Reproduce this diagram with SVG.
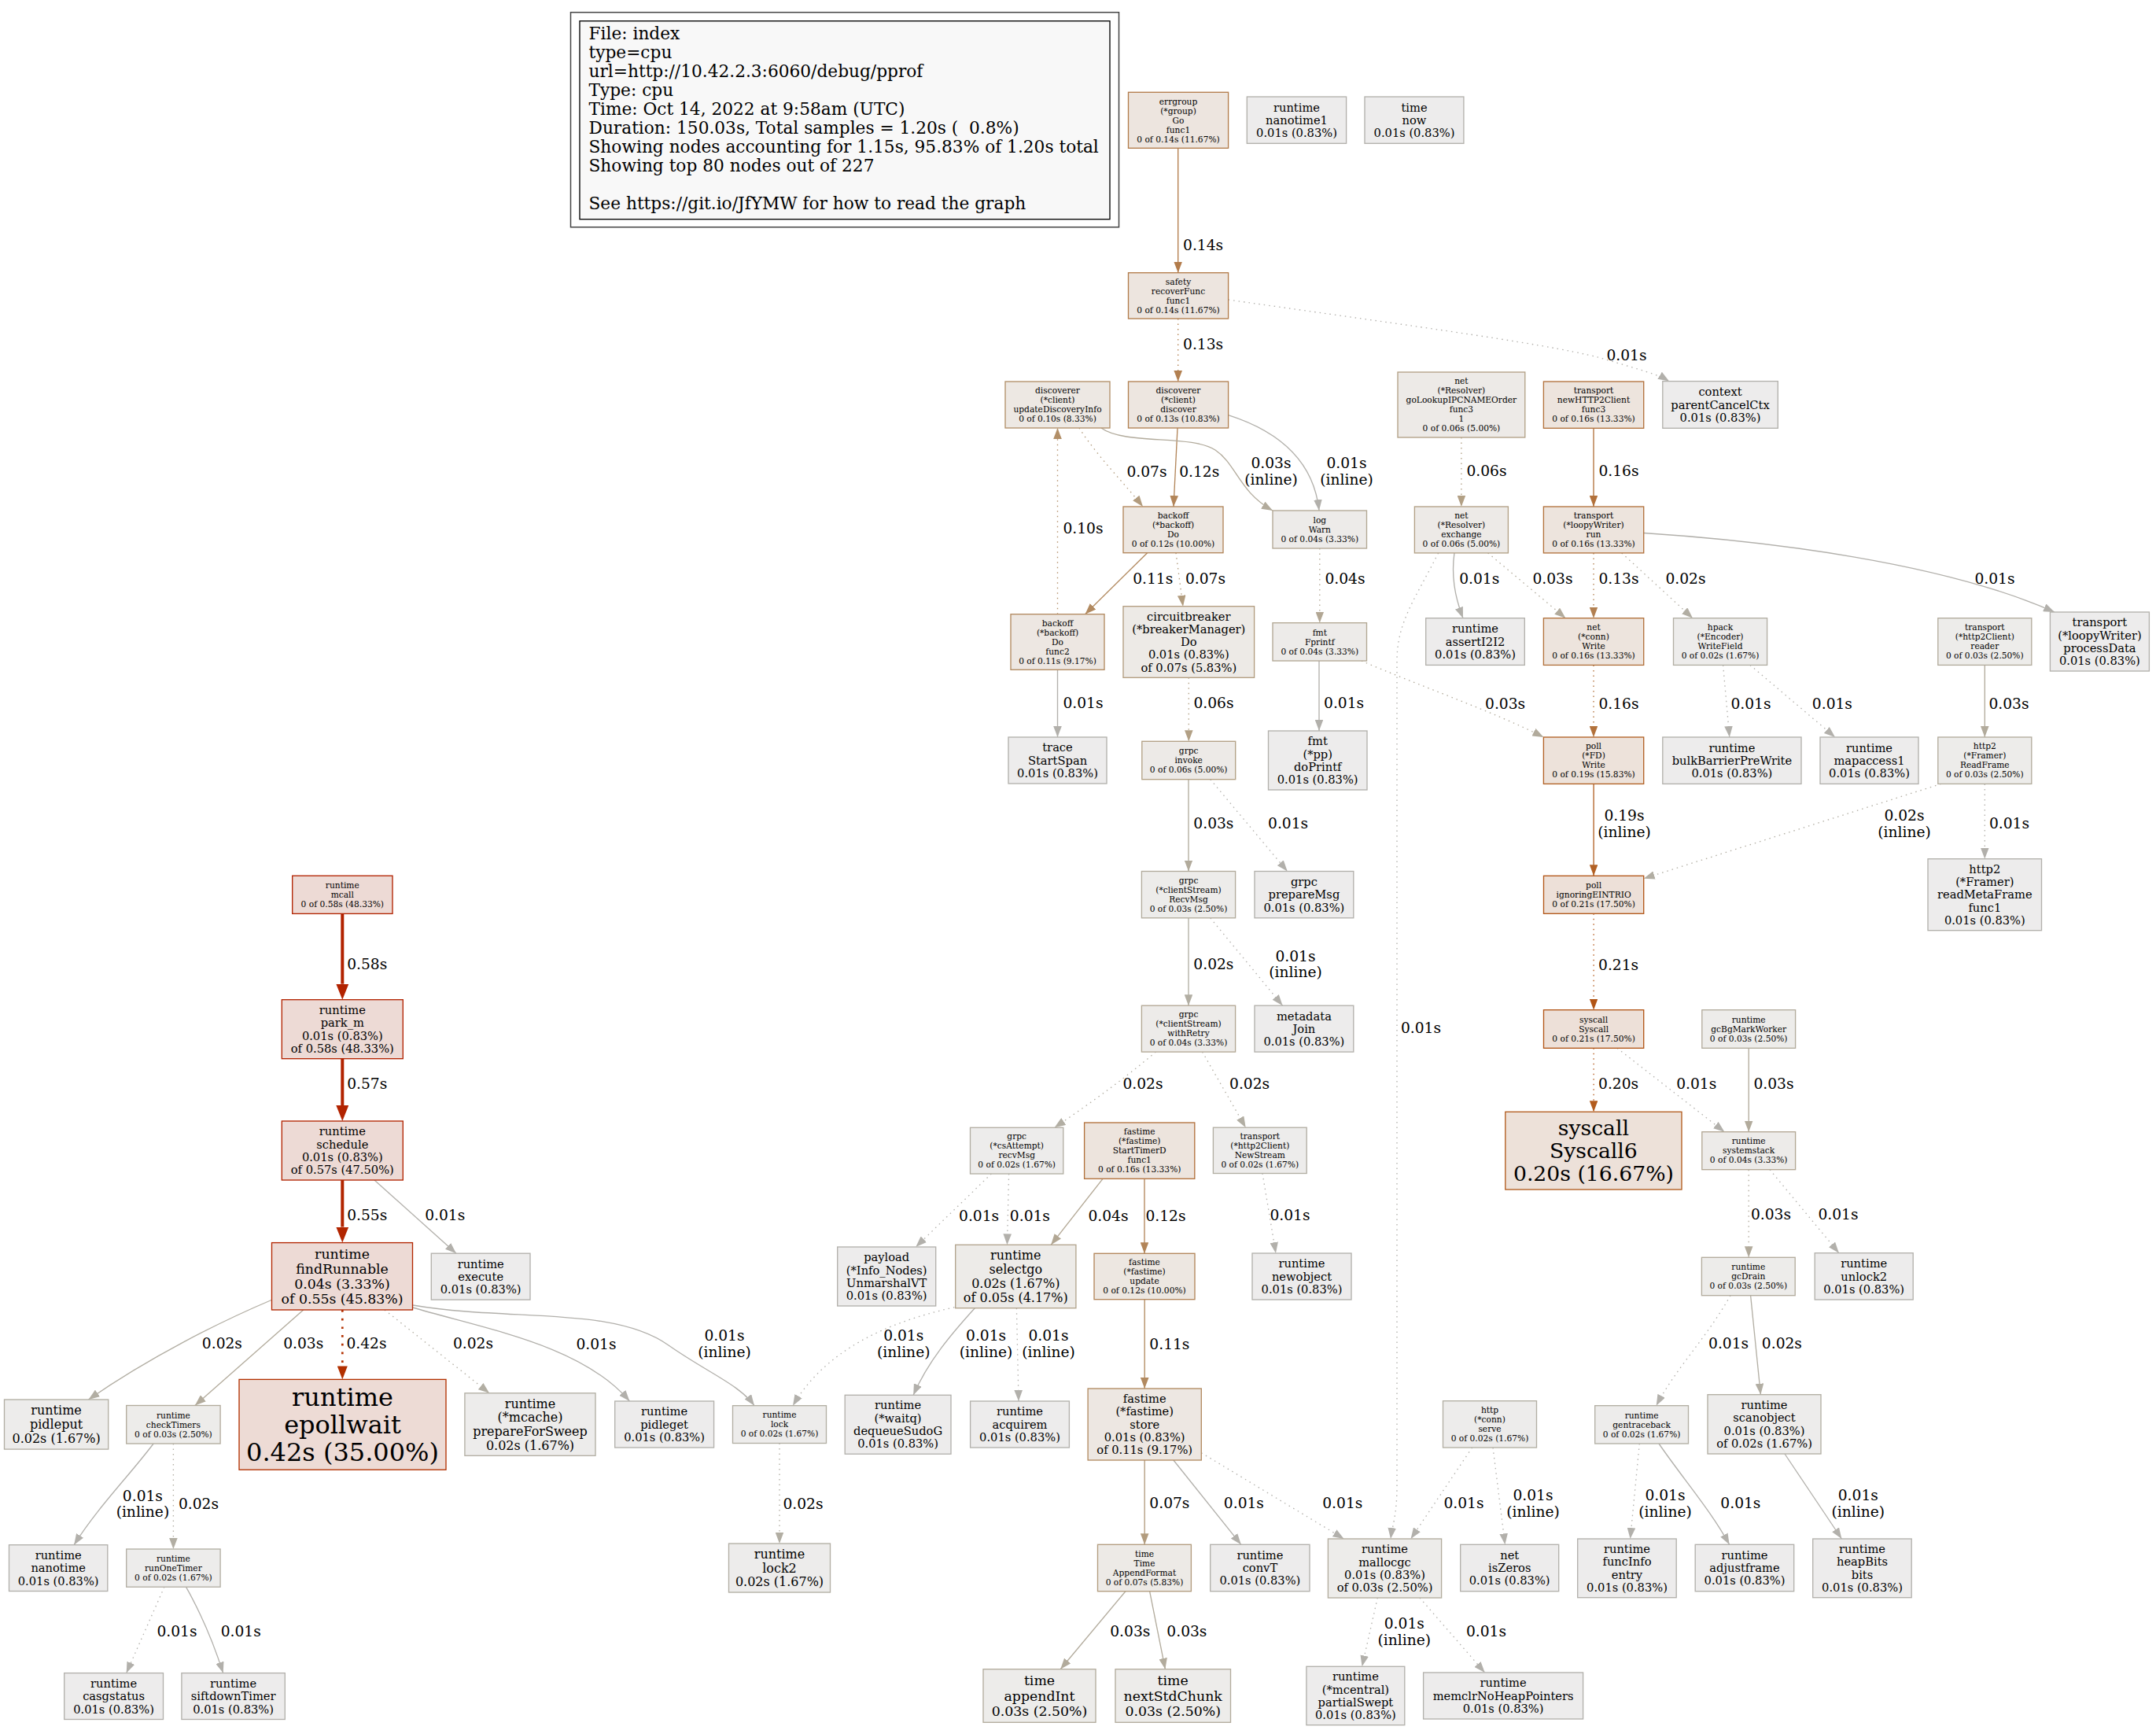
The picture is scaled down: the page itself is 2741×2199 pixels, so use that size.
<svg xmlns="http://www.w3.org/2000/svg" width="2741" height="2199" viewBox="0 0 2741 2199">
<style>
text{font-family:"DejaVu Serif","Liberation Serif",serif;fill:#000}
.n text{text-anchor:middle}
.n rect{stroke-width:1.33}
.f8{font-size:10.67px}.f11{font-size:14.67px}.f12{font-size:16px}.f13{font-size:17.33px}.f20{font-size:26.67px}.f24{font-size:32px}
.e{fill:none;stroke-width:1.33}
.dt{stroke-dasharray:1.5 5}
.el{font-size:18.67px;text-anchor:middle}
.lg{font-size:21.7px}
.k58 rect{fill:#eddad5;stroke:#b22200}.k57 rect{fill:#eddad5;stroke:#b22300}.k55 rect{fill:#eddad5;stroke:#b22500}.k42 rect{fill:#eddbd5;stroke:#b23000}
.k21 rect{fill:#ede0d8;stroke:#b25516}.k20 rect{fill:#ede1d9;stroke:#b25b1d}.k19 rect{fill:#ede2da;stroke:#b26125}.k16 rect{fill:#ede4dd;stroke:#b2713b}
.k14 rect{fill:#ede5df;stroke:#b27b4a}.k13 rect{fill:#ede6e0;stroke:#b28051}.k12 rect{fill:#ede7e1;stroke:#b28559}.k11 rect{fill:#ede7e2;stroke:#b28a60}
.k10 rect{fill:#ede8e3;stroke:#b28f68}.k07 rect{fill:#edeae6;stroke:#b29c7e}.k06 rect{fill:#edeae7;stroke:#b2a085}.k05 rect{fill:#edebe8;stroke:#b2a48d}
.k04 rect{fill:#edebe9;stroke:#b2a794}.k03 rect{fill:#edecea;stroke:#b2ab9c}.k02 rect{fill:#edeceb;stroke:#b2aea3}.k01 rect{fill:#edecec;stroke:#b2b0ab}
.c58{stroke:#b22200;stroke-width:4}.c57{stroke:#b22300;stroke-width:4}.c55{stroke:#b22500;stroke-width:4}.c42{stroke:#b23000;stroke-width:2.67;stroke-dasharray:2.7 8}
.c21{stroke:#b25516}.c20{stroke:#b25b1d}.c19{stroke:#b26125}.c16{stroke:#b2713b}.c14{stroke:#b27b4a}.c13{stroke:#b28051}.c12{stroke:#b28559}
.c11{stroke:#b28a60}.c10{stroke:#b28f68}.c07{stroke:#b29c7e}.c06{stroke:#b2a085}.c04{stroke:#b2a794}.c03{stroke:#b2ab9c}.c02{stroke:#b2aea3}.c01{stroke:#b2b0ab}
</style>
<defs>
<marker id="a01" viewBox="0 0 14 10.6" markerUnits="userSpaceOnUse" markerWidth="14" markerHeight="10.6" refX="14" refY="5.3" orient="auto"><path d="M0,0L14,5.3L0,10.6z" fill="#b2b0ab"/></marker>
<marker id="a02" viewBox="0 0 14 10.6" markerUnits="userSpaceOnUse" markerWidth="14" markerHeight="10.6" refX="14" refY="5.3" orient="auto"><path d="M0,0L14,5.3L0,10.6z" fill="#b2aea3"/></marker>
<marker id="a03" viewBox="0 0 14 10.6" markerUnits="userSpaceOnUse" markerWidth="14" markerHeight="10.6" refX="14" refY="5.3" orient="auto"><path d="M0,0L14,5.3L0,10.6z" fill="#b2ab9c"/></marker>
<marker id="a04" viewBox="0 0 14 10.6" markerUnits="userSpaceOnUse" markerWidth="14" markerHeight="10.6" refX="14" refY="5.3" orient="auto"><path d="M0,0L14,5.3L0,10.6z" fill="#b2a794"/></marker>
<marker id="a06" viewBox="0 0 14 10.6" markerUnits="userSpaceOnUse" markerWidth="14" markerHeight="10.6" refX="14" refY="5.3" orient="auto"><path d="M0,0L14,5.3L0,10.6z" fill="#b2a085"/></marker>
<marker id="a07" viewBox="0 0 14 10.6" markerUnits="userSpaceOnUse" markerWidth="14" markerHeight="10.6" refX="14" refY="5.3" orient="auto"><path d="M0,0L14,5.3L0,10.6z" fill="#b29c7e"/></marker>
<marker id="a10" viewBox="0 0 14 10.6" markerUnits="userSpaceOnUse" markerWidth="14" markerHeight="10.6" refX="14" refY="5.3" orient="auto"><path d="M0,0L14,5.3L0,10.6z" fill="#b28f68"/></marker>
<marker id="a11" viewBox="0 0 14 10.6" markerUnits="userSpaceOnUse" markerWidth="14" markerHeight="10.6" refX="14" refY="5.3" orient="auto"><path d="M0,0L14,5.3L0,10.6z" fill="#b28a60"/></marker>
<marker id="a12" viewBox="0 0 14 10.6" markerUnits="userSpaceOnUse" markerWidth="14" markerHeight="10.6" refX="14" refY="5.3" orient="auto"><path d="M0,0L14,5.3L0,10.6z" fill="#b28559"/></marker>
<marker id="a13" viewBox="0 0 14 10.6" markerUnits="userSpaceOnUse" markerWidth="14" markerHeight="10.6" refX="14" refY="5.3" orient="auto"><path d="M0,0L14,5.3L0,10.6z" fill="#b28051"/></marker>
<marker id="a14" viewBox="0 0 14 10.6" markerUnits="userSpaceOnUse" markerWidth="14" markerHeight="10.6" refX="14" refY="5.3" orient="auto"><path d="M0,0L14,5.3L0,10.6z" fill="#b27b4a"/></marker>
<marker id="a16" viewBox="0 0 14 10.6" markerUnits="userSpaceOnUse" markerWidth="14" markerHeight="10.6" refX="14" refY="5.3" orient="auto"><path d="M0,0L14,5.3L0,10.6z" fill="#b2713b"/></marker>
<marker id="a19" viewBox="0 0 14 10.6" markerUnits="userSpaceOnUse" markerWidth="14" markerHeight="10.6" refX="14" refY="5.3" orient="auto"><path d="M0,0L14,5.3L0,10.6z" fill="#b26125"/></marker>
<marker id="a20" viewBox="0 0 14 10.6" markerUnits="userSpaceOnUse" markerWidth="14" markerHeight="10.6" refX="14" refY="5.3" orient="auto"><path d="M0,0L14,5.3L0,10.6z" fill="#b25b1d"/></marker>
<marker id="a21" viewBox="0 0 14 10.6" markerUnits="userSpaceOnUse" markerWidth="14" markerHeight="10.6" refX="14" refY="5.3" orient="auto"><path d="M0,0L14,5.3L0,10.6z" fill="#b25516"/></marker>
<marker id="a58" viewBox="0 0 20 16" markerUnits="userSpaceOnUse" markerWidth="20" markerHeight="16" refX="0" refY="8" orient="auto"><path d="M0,0L20,8L0,16z" fill="#b22200"/></marker>
<marker id="a57" viewBox="0 0 20 16" markerUnits="userSpaceOnUse" markerWidth="20" markerHeight="16" refX="0" refY="8" orient="auto"><path d="M0,0L20,8L0,16z" fill="#b22300"/></marker>
<marker id="a55" viewBox="0 0 20 16" markerUnits="userSpaceOnUse" markerWidth="20" markerHeight="16" refX="0" refY="8" orient="auto"><path d="M0,0L20,8L0,16z" fill="#b22500"/></marker>
<marker id="a42" viewBox="0 0 17 13" markerUnits="userSpaceOnUse" markerWidth="17" markerHeight="13" refX="0" refY="6.5" orient="auto"><path d="M0,0L17,6.5L0,13z" fill="#b23000"/></marker>
</defs>
<rect x="0" y="0" width="2741" height="2199" fill="#fff"/>
<g id="legend">
<rect x="725.5" y="15.7" width="697" height="273" fill="#fff" stroke="#444" stroke-width="1.5"/>
<rect x="737" y="26.7" width="674" height="252" fill="#f8f8f8" stroke="#000" stroke-width="1.33"/>
<text class="lg" x="748.5" xml:space="preserve"><tspan x="748.5" y="50">File: index</tspan><tspan x="748.5" y="74">type=cpu</tspan><tspan x="748.5" y="98">url=http://10.42.2.3:6060/debug/pprof</tspan><tspan x="748.5" y="122">Type: cpu</tspan><tspan x="748.5" y="146">Time: Oct 14, 2022 at 9:58am (UTC)</tspan><tspan x="748.5" y="170">Duration: 150.03s, Total samples = 1.20s (  0.8%)</tspan><tspan x="748.5" y="194">Showing nodes accounting for 1.15s, 95.83% of 1.20s total</tspan><tspan x="748.5" y="218">Showing top 80 nodes out of 227</tspan><tspan x="748.5" y="266">See https://git.io/JfYMW for how to read the graph</tspan></text>
</g>
<g id="connectors">
<path class="e c14" d="M1497.7,188.3V346.7" marker-end="url(#a14)"/>
<path class="e c13 dt" d="M1497.7,405V485" marker-end="url(#a13)"/>
<path class="e c01 dt" d="M1561.6,381C1800,415 1990,440 2045,458C2085,470 2108,476 2122,484.6" marker-end="url(#a01)"/>
<path class="e c12" d="M1497,544L1492,644" marker-end="url(#a12)"/>
<path class="e c01" d="M1561.6,527.7C1625,548 1670,585 1677,649" marker-end="url(#a01)"/>
<path class="e c07 dt" d="M1372,544C1395,580 1430,615 1453,644" marker-end="url(#a07)"/>
<path class="e c03" d="M1400,544C1430,566 1515,552 1545,572C1572,590 1575,625 1618,649" marker-end="url(#a03)"/>
<path class="e c11" d="M1458.6,702.7L1379.6,780.7" marker-end="url(#a11)"/>
<path class="e c07 dt" d="M1495,702.7L1504,770.7" marker-end="url(#a07)"/>
<path class="e c10 dt" d="M1344.5,780.7V544" marker-end="url(#a10)"/>
<path class="e c01" d="M1344.5,851.3V937" marker-end="url(#a01)"/>
<path class="e c06 dt" d="M1511.3,861.3V942.3" marker-end="url(#a06)"/>
<path class="e c04 dt" d="M1677.8,697V791.7" marker-end="url(#a04)"/>
<path class="e c01" d="M1677,840V929" marker-end="url(#a01)"/>
<path class="e c03 dt" d="M1731,840C1800,870 1900,905 1962.4,937" marker-end="url(#a03)"/>
<path class="e c06 dt" d="M1857.9,556V644" marker-end="url(#a06)"/>
<path class="e c16" d="M2026,544.3V644" marker-end="url(#a16)"/>
<path class="e c01" d="M1849,702.9C1845,730 1850,760 1860,785.7" marker-end="url(#a01)"/>
<path class="e c03 dt" d="M1891.6,702.9L1990.4,785.7" marker-end="url(#a03)"/>
<path class="e c01 dt" d="M1828.6,702.9C1800,760 1776,790 1776,840V1890C1776,1925 1770,1940 1768,1956" marker-end="url(#a01)"/>
<path class="e c13 dt" d="M2026,702.9V785.7" marker-end="url(#a13)"/>
<path class="e c02 dt" d="M2061.7,702.9L2152,785.7" marker-end="url(#a02)"/>
<path class="e c01" d="M2089.7,677.5C2250,688 2470,715 2612,778" marker-end="url(#a01)"/>
<path class="e c16 dt" d="M2026,845.4V937" marker-end="url(#a16)"/>
<path class="e c01 dt" d="M2190.6,845.4L2198.8,937" marker-end="url(#a01)"/>
<path class="e c01 dt" d="M2225,845.4L2333,937" marker-end="url(#a01)"/>
<path class="e c03" d="M2523.3,845.4V937" marker-end="url(#a03)"/>
<path class="e c02 dt" d="M2467.6,996.4L2089.7,1116.7" marker-end="url(#a02)"/>
<path class="e c01 dt" d="M2523.3,996.4V1091.7" marker-end="url(#a01)"/>
<path class="e c19" d="M2026.1,996.4V1113.3" marker-end="url(#a19)"/>
<path class="e c21 dt" d="M2026.1,1161.3V1283.7" marker-end="url(#a21)"/>
<path class="e c20 dt" d="M2026.1,1332.3V1413.3" marker-end="url(#a20)"/>
<path class="e c01 dt" d="M2056,1332.3L2192.4,1438.7" marker-end="url(#a01)"/>
<path class="e c03" d="M2223.2,1332.3V1438.7" marker-end="url(#a03)"/>
<path class="e c03 dt" d="M2223.2,1486.7V1598.3" marker-end="url(#a03)"/>
<path class="e c01 dt" d="M2250,1486.7L2337.9,1592.7" marker-end="url(#a01)"/>
<path class="e c01 dt" d="M2200,1646.7C2170,1700 2130,1740 2105.7,1786.7" marker-end="url(#a01)"/>
<path class="e c02" d="M2225.6,1646.7L2238.4,1772.7" marker-end="url(#a02)"/>
<path class="e c01 dt" d="M2084.3,1835L2072.6,1956" marker-end="url(#a01)"/>
<path class="e c01" d="M2109,1835C2140,1880 2175,1920 2198.6,1963.3" marker-end="url(#a01)"/>
<path class="e c01" d="M2269,1848L2341.4,1956" marker-end="url(#a01)"/>
<path class="e c01 dt" d="M1871.6,1840L1793.6,1956" marker-end="url(#a01)"/>
<path class="e c01 dt" d="M1898,1840L1913.4,1963.3" marker-end="url(#a01)"/>
<path class="e c03" d="M1511,990.7V1107.5" marker-end="url(#a03)"/>
<path class="e c01 dt" d="M1538.8,990.7L1636.7,1107.5" marker-end="url(#a01)"/>
<path class="e c02" d="M1511,1166.8V1278.2" marker-end="url(#a02)"/>
<path class="e c01 dt" d="M1538.8,1166.8L1630.6,1278.2" marker-end="url(#a01)"/>
<path class="e c02 dt" d="M1469.4,1337.1C1425,1375 1375,1410 1340.6,1433.3" marker-end="url(#a02)"/>
<path class="e c02 dt" d="M1528.6,1337.1L1583.7,1433.2" marker-end="url(#a02)"/>
<path class="e c01 dt" d="M1605,1491.5L1622,1593" marker-end="url(#a01)"/>
<path class="e c01 dt" d="M1260.3,1492L1164.3,1585" marker-end="url(#a01)"/>
<path class="e c01 dt" d="M1282.6,1492L1280.4,1582.3" marker-end="url(#a01)"/>
<path class="e c04" d="M1402,1498.3L1336.2,1582.3" marker-end="url(#a04)"/>
<path class="e c12" d="M1455,1498.3V1593.3" marker-end="url(#a12)"/>
<path class="e c11" d="M1455.2,1651.7V1765" marker-end="url(#a11)"/>
<path class="e c07" d="M1455.2,1856V1963.3" marker-end="url(#a07)"/>
<path class="e c01" d="M1491.9,1856L1577.8,1963.3" marker-end="url(#a01)"/>
<path class="e c01 dt" d="M1527.3,1846.7L1708.6,1956" marker-end="url(#a01)"/>
<path class="e c03" d="M1430.9,2022.7L1348.2,2121.7" marker-end="url(#a03)"/>
<path class="e c03" d="M1461.6,2022.7L1481.4,2121.7" marker-end="url(#a03)"/>
<path class="e c01 dt" d="M1751.3,2031L1731.6,2118.3" marker-end="url(#a01)"/>
<path class="e c01 dt" d="M1805,2031L1887.7,2126" marker-end="url(#a01)"/>
<path class="e c01 dt" d="M1213.4,1661.7C1130,1680 1050,1715 1008,1786.7" marker-end="url(#a01)"/>
<path class="e c01" d="M1239.3,1662.7C1210,1695 1180,1730 1161.2,1773.3" marker-end="url(#a01)"/>
<path class="e c01 dt" d="M1292.4,1662.7L1295,1781" marker-end="url(#a01)"/>
<path class="e c02 dt" d="M991,1834.5V1962" marker-end="url(#a02)"/>
<path class="e c58" d="M435.3,1161.4V1250.7" marker-end="url(#a58)"/>
<path class="e c57" d="M435.3,1345.7V1405" marker-end="url(#a57)"/>
<path class="e c55" d="M435.3,1500V1559.6" marker-end="url(#a55)"/>
<path class="e c01" d="M476,1500L580,1593.2" marker-end="url(#a01)"/>
<path class="e c02" d="M345,1652.5C280,1680 190,1725 112.5,1779" marker-end="url(#a02)"/>
<path class="e c03" d="M385.7,1665L247.9,1786.5" marker-end="url(#a03)"/>
<path class="e c42" d="M435.3,1665V1736.4" marker-end="url(#a42)"/>
<path class="e c02 dt" d="M489,1665L622.1,1770.8" marker-end="url(#a02)"/>
<path class="e c01" d="M524.8,1662C620,1690 740,1710 800.4,1781" marker-end="url(#a01)"/>
<path class="e c01" d="M524.8,1659C650,1680 780,1660 850,1710C900,1745 940,1760 959,1786.7" marker-end="url(#a01)"/>
<path class="e c01" d="M195.1,1835C165,1875 125,1915 94.1,1963.7" marker-end="url(#a01)"/>
<path class="e c02 dt" d="M220.4,1835V1969" marker-end="url(#a02)"/>
<path class="e c01 dt" d="M208.9,2017.2L160.7,2126.6" marker-end="url(#a01)"/>
<path class="e c01" d="M236.5,2017.2C255,2050 272,2090 283.7,2126.6" marker-end="url(#a01)"/>
<g id="edge-labels">
<text class="el" x="1529.6" y="318.2">0.14s</text>
<text class="el" x="1529.6" y="443.8">0.13s</text>
<text class="el" x="2068" y="458">0.01s</text>
<text class="el" x="1524.7" y="605.5">0.12s</text>
<text class="el"><tspan x="1712" y="594.5">0.01s</tspan><tspan x="1712" y="615.5">(inline)</tspan></text>
<text class="el" x="1458" y="605.5">0.07s</text>
<text class="el"><tspan x="1616" y="594.5">0.03s</tspan><tspan x="1616" y="615.5">(inline)</tspan></text>
<text class="el" x="1465.7" y="742.2">0.11s</text>
<text class="el" x="1532.5" y="742.2">0.07s</text>
<text class="el" x="1377" y="678.2">0.10s</text>
<text class="el" x="1377" y="899.5">0.01s</text>
<text class="el" x="1543" y="899.5">0.06s</text>
<text class="el" x="1710" y="742.2">0.04s</text>
<text class="el" x="1708.6" y="899.5">0.01s</text>
<text class="el" x="1913.6" y="900.5">0.03s</text>
<text class="el" x="1890" y="605.1">0.06s</text>
<text class="el" x="2058" y="605.1">0.16s</text>
<text class="el" x="1880.7" y="742.2">0.01s</text>
<text class="el" x="1974" y="742.2">0.03s</text>
<text class="el" x="1806.5" y="1312.5">0.01s</text>
<text class="el" x="2058" y="742.2">0.13s</text>
<text class="el" x="2143" y="742.2">0.02s</text>
<text class="el" x="2536" y="742.2">0.01s</text>
<text class="el" x="2058" y="900.5">0.16s</text>
<text class="el" x="2226" y="900.5">0.01s</text>
<text class="el" x="2329.4" y="900.5">0.01s</text>
<text class="el" x="2554" y="900.5">0.03s</text>
<text class="el"><tspan x="2421" y="1043.2">0.02s</tspan><tspan x="2421" y="1063.8">(inline)</tspan></text>
<text class="el" x="2554.5" y="1053.2">0.01s</text>
<text class="el"><tspan x="2065" y="1043.2">0.19s</tspan><tspan x="2065" y="1063.8">(inline)</tspan></text>
<text class="el" x="2057.6" y="1232.5">0.21s</text>
<text class="el" x="2057.6" y="1384.2">0.20s</text>
<text class="el" x="2156.7" y="1384.2">0.01s</text>
<text class="el" x="2255" y="1384.2">0.03s</text>
<text class="el" x="2251.5" y="1550">0.03s</text>
<text class="el" x="2337" y="1550">0.01s</text>
<text class="el" x="2197.6" y="1714.2">0.01s</text>
<text class="el" x="2265.4" y="1714.2">0.02s</text>
<text class="el"><tspan x="2117" y="1907.2">0.01s</tspan><tspan x="2117" y="1927.5">(inline)</tspan></text>
<text class="el" x="2212.9" y="1917.2">0.01s</text>
<text class="el"><tspan x="2362.3" y="1907.2">0.01s</tspan><tspan x="2362.3" y="1927.5">(inline)</tspan></text>
<text class="el" x="1861" y="1917.2">0.01s</text>
<text class="el"><tspan x="1949" y="1907.2">0.01s</tspan><tspan x="1949" y="1927.5">(inline)</tspan></text>
<text class="el" x="1542.9" y="1053.3">0.03s</text>
<text class="el" x="1637.6" y="1053.3">0.01s</text>
<text class="el" x="1542.9" y="1231.9">0.02s</text>
<text class="el"><tspan x="1647" y="1222.2">0.01s</tspan><tspan x="1647" y="1241.9">(inline)</tspan></text>
<text class="el" x="1453" y="1384">0.02s</text>
<text class="el" x="1588.6" y="1384">0.02s</text>
<text class="el" x="1640" y="1550.5">0.01s</text>
<text class="el" x="1244.6" y="1551.5">0.01s</text>
<text class="el" x="1309.4" y="1551.5">0.01s</text>
<text class="el" x="1409" y="1551.5">0.04s</text>
<text class="el" x="1482" y="1551.5">0.12s</text>
<text class="el" x="1486.9" y="1714.8">0.11s</text>
<text class="el" x="1486.9" y="1917.2">0.07s</text>
<text class="el" x="1581.4" y="1917.2">0.01s</text>
<text class="el" x="1706.8" y="1917.2">0.01s</text>
<text class="el" x="1436.8" y="2079.8">0.03s</text>
<text class="el" x="1508.9" y="2079.8">0.03s</text>
<text class="el"><tspan x="1785.3" y="2069.8">0.01s</tspan><tspan x="1785.3" y="2090.5">(inline)</tspan></text>
<text class="el" x="1889.5" y="2079.8">0.01s</text>
<text class="el"><tspan x="1148.7" y="1704.2">0.01s</tspan><tspan x="1148.7" y="1724.8">(inline)</tspan></text>
<text class="el"><tspan x="1253.6" y="1704.2">0.01s</tspan><tspan x="1253.6" y="1724.8">(inline)</tspan></text>
<text class="el"><tspan x="1333" y="1704.2">0.01s</tspan><tspan x="1333" y="1724.8">(inline)</tspan></text>
<text class="el" x="1021" y="1917.5">0.02s</text>
<text class="el" x="466.7" y="1232.2">0.58s</text>
<text class="el" x="466.7" y="1384.4">0.57s</text>
<text class="el" x="466.7" y="1551.1">0.55s</text>
<text class="el" x="565.7" y="1551.1">0.01s</text>
<text class="el" x="282.4" y="1714.2">0.02s</text>
<text class="el" x="385.7" y="1714.2">0.03s</text>
<text class="el" x="466" y="1714.2">0.42s</text>
<text class="el" x="601.5" y="1714.2">0.02s</text>
<text class="el" x="758" y="1714.8">0.01s</text>
<text class="el"><tspan x="921" y="1704.2">0.01s</tspan><tspan x="921" y="1724.8">(inline)</tspan></text>
<text class="el"><tspan x="181.4" y="1907.8">0.01s</tspan><tspan x="181.4" y="1928.1">(inline)</tspan></text>
<text class="el" x="252.5" y="1917.5">0.02s</text>
<text class="el" x="225" y="2080.4">0.01s</text>
<text class="el" x="306.2" y="2080.4">0.01s</text>
</g>
</g>
<g id="nodes">
<g id="n-errgroup" class="n k14"><rect x="1434.5" y="117.3" width="127.1" height="71"/><text class="f8"><tspan x="1498" y="132.5">errgroup</tspan><tspan x="1498" y="144.5">(*group)</tspan><tspan x="1498" y="156.5">Go</tspan><tspan x="1498" y="168.5">func1</tspan><tspan x="1498" y="180.5">0 of 0.14s (11.67%)</tspan></text></g>
<g id="n-nanotime1" class="n k01"><rect x="1585.3" y="123" width="126.3" height="59.3"/><text class="f11"><tspan x="1648.5" y="141.5">runtime</tspan><tspan x="1648.5" y="157.8">nanotime1</tspan><tspan x="1648.5" y="174.1">0.01s (0.83%)</tspan></text></g>
<g id="n-timenow" class="n k01"><rect x="1735" y="123" width="125.9" height="59.3"/><text class="f11"><tspan x="1798" y="141.5">time</tspan><tspan x="1798" y="157.8">now</tspan><tspan x="1798" y="174.1">0.01s (0.83%)</tspan></text></g>
<g id="n-safety" class="n k14"><rect x="1434.5" y="346.7" width="127.1" height="58.3"/><text class="f8"><tspan x="1498" y="361.6">safety</tspan><tspan x="1498" y="373.6">recoverFunc</tspan><tspan x="1498" y="385.6">func1</tspan><tspan x="1498" y="397.6">0 of 0.14s (11.67%)</tspan></text></g>
<g id="n-discover" class="n k13"><rect x="1434.5" y="485" width="127.1" height="59"/><text class="f8"><tspan x="1498" y="500.2">discoverer</tspan><tspan x="1498" y="512.2">(*client)</tspan><tspan x="1498" y="524.2">discover</tspan><tspan x="1498" y="536.2">0 of 0.13s (10.83%)</tspan></text></g>
<g id="n-updateDiscoveryInfo" class="n k10"><rect x="1278" y="485" width="133" height="59"/><text class="f8"><tspan x="1344.5" y="500.2">discoverer</tspan><tspan x="1344.5" y="512.2">(*client)</tspan><tspan x="1344.5" y="524.2">updateDiscoveryInfo</tspan><tspan x="1344.5" y="536.2">0 of 0.10s (8.33%)</tspan></text></g>
<g id="n-goLookup" class="n k06"><rect x="1777" y="473" width="161.8" height="83"/><text class="f8"><tspan x="1857.9" y="488.2">net</tspan><tspan x="1857.9" y="500.2">(*Resolver)</tspan><tspan x="1857.9" y="512.2">goLookupIPCNAMEOrder</tspan><tspan x="1857.9" y="524.2">func3</tspan><tspan x="1857.9" y="536.2">1</tspan><tspan x="1857.9" y="548.2">0 of 0.06s (5.00%)</tspan></text></g>
<g id="n-newHTTP2Client" class="n k16"><rect x="1962.4" y="485" width="127.3" height="59.3"/><text class="f8"><tspan x="2026" y="500.3">transport</tspan><tspan x="2026" y="512.3">newHTTP2Client</tspan><tspan x="2026" y="524.3">func3</tspan><tspan x="2026" y="536.3">0 of 0.16s (13.33%)</tspan></text></g>
<g id="n-parentCancelCtx" class="n k01"><rect x="2113.8" y="484.6" width="146.5" height="59.7"/><text class="f11"><tspan x="2187" y="503.3">context</tspan><tspan x="2187" y="519.6">parentCancelCtx</tspan><tspan x="2187" y="535.9">0.01s (0.83%)</tspan></text></g>
<g id="n-backoffDo" class="n k12"><rect x="1428" y="644" width="127" height="58.7"/><text class="f8"><tspan x="1491.5" y="659.1">backoff</tspan><tspan x="1491.5" y="671.1">(*backoff)</tspan><tspan x="1491.5" y="683.1">Do</tspan><tspan x="1491.5" y="695.1">0 of 0.12s (10.00%)</tspan></text></g>
<g id="n-logWarn" class="n k04"><rect x="1618" y="649" width="119.5" height="48"/><text class="f8"><tspan x="1677.8" y="664.7">log</tspan><tspan x="1677.8" y="676.7">Warn</tspan><tspan x="1677.8" y="688.7">0 of 0.04s (3.33%)</tspan></text></g>
<g id="n-exchange" class="n k06"><rect x="1798.4" y="644" width="119" height="58.9"/><text class="f8"><tspan x="1857.9" y="659.2">net</tspan><tspan x="1857.9" y="671.2">(*Resolver)</tspan><tspan x="1857.9" y="683.2">exchange</tspan><tspan x="1857.9" y="695.2">0 of 0.06s (5.00%)</tspan></text></g>
<g id="n-loopyRun" class="n k16"><rect x="1962.4" y="644" width="127.3" height="58.9"/><text class="f8"><tspan x="2026" y="659.2">transport</tspan><tspan x="2026" y="671.2">(*loopyWriter)</tspan><tspan x="2026" y="683.2">run</tspan><tspan x="2026" y="695.2">0 of 0.16s (13.33%)</tspan></text></g>
<g id="n-backoffFunc2" class="n k11"><rect x="1285" y="780.7" width="119" height="70.6"/><text class="f8"><tspan x="1344.5" y="795.7">backoff</tspan><tspan x="1344.5" y="807.7">(*backoff)</tspan><tspan x="1344.5" y="819.7">Do</tspan><tspan x="1344.5" y="831.7">func2</tspan><tspan x="1344.5" y="843.7">0 of 0.11s (9.17%)</tspan></text></g>
<g id="n-circuitbreaker" class="n k07"><rect x="1428" y="770.7" width="166.6" height="90.6"/><text class="f11"><tspan x="1511.3" y="788.5">circuitbreaker</tspan><tspan x="1511.3" y="804.8">(*breakerManager)</tspan><tspan x="1511.3" y="821.1">Do</tspan><tspan x="1511.3" y="837.4">0.01s (0.83%)</tspan><tspan x="1511.3" y="853.7">of 0.07s (5.83%)</tspan></text></g>
<g id="n-Fprintf" class="n k04"><rect x="1618" y="791.7" width="119.5" height="48.3"/><text class="f8"><tspan x="1677.8" y="807.6">fmt</tspan><tspan x="1677.8" y="819.6">Fprintf</tspan><tspan x="1677.8" y="831.6">0 of 0.04s (3.33%)</tspan></text></g>
<g id="n-assertI2I2" class="n k01"><rect x="1812.7" y="785.7" width="125.6" height="59.7"/><text class="f11"><tspan x="1875.5" y="804.4">runtime</tspan><tspan x="1875.5" y="820.7">assertI2I2</tspan><tspan x="1875.5" y="837">0.01s (0.83%)</tspan></text></g>
<g id="n-connWrite" class="n k16"><rect x="1962.4" y="785.7" width="127.3" height="59.7"/><text class="f8"><tspan x="2026" y="801.3">net</tspan><tspan x="2026" y="813.3">(*conn)</tspan><tspan x="2026" y="825.3">Write</tspan><tspan x="2026" y="837.3">0 of 0.16s (13.33%)</tspan></text></g>
<g id="n-hpack" class="n k02"><rect x="2127.5" y="785.7" width="119.1" height="59.7"/><text class="f8"><tspan x="2187" y="801.3">hpack</tspan><tspan x="2187" y="813.3">(*Encoder)</tspan><tspan x="2187" y="825.3">WriteField</tspan><tspan x="2187" y="837.3">0 of 0.02s (1.67%)</tspan></text></g>
<g id="n-reader" class="n k03"><rect x="2463.8" y="785.7" width="119" height="59.7"/><text class="f8"><tspan x="2523.3" y="801.3">transport</tspan><tspan x="2523.3" y="813.3">(*http2Client)</tspan><tspan x="2523.3" y="825.3">reader</tspan><tspan x="2523.3" y="837.3">0 of 0.03s (2.50%)</tspan></text></g>
<g id="n-processData" class="n k01"><rect x="2606.4" y="778" width="126" height="75"/><text class="f11"><tspan x="2669.4" y="796.2">transport</tspan><tspan x="2669.4" y="812.5">(*loopyWriter)</tspan><tspan x="2669.4" y="828.8">processData</tspan><tspan x="2669.4" y="845.1">0.01s (0.83%)</tspan></text></g>
<g id="n-StartSpan" class="n k01"><rect x="1282" y="937" width="125" height="59"/><text class="f11"><tspan x="1344.5" y="955.3">trace</tspan><tspan x="1344.5" y="971.6">StartSpan</tspan><tspan x="1344.5" y="987.9">0.01s (0.83%)</tspan></text></g>
<g id="n-invoke" class="n k06"><rect x="1451.8" y="942.3" width="118.9" height="48.4"/><text class="f8"><tspan x="1511.2" y="958.2">grpc</tspan><tspan x="1511.2" y="970.2">invoke</tspan><tspan x="1511.2" y="982.2">0 of 0.06s (5.00%)</tspan></text></g>
<g id="n-doPrintf" class="n k01"><rect x="1612.5" y="929" width="125.5" height="75"/><text class="f11"><tspan x="1675.2" y="947.2">fmt</tspan><tspan x="1675.2" y="963.5">(*pp)</tspan><tspan x="1675.2" y="979.8">doPrintf</tspan><tspan x="1675.2" y="996.1">0.01s (0.83%)</tspan></text></g>
<g id="n-pollWrite" class="n k19"><rect x="1962.4" y="937" width="127.3" height="59.4"/><text class="f8"><tspan x="2026" y="952.4">poll</tspan><tspan x="2026" y="964.4">(*FD)</tspan><tspan x="2026" y="976.4">Write</tspan><tspan x="2026" y="988.4">0 of 0.19s (15.83%)</tspan></text></g>
<g id="n-bulkBarrierPreWrite" class="n k01"><rect x="2113.8" y="937" width="176.2" height="59.4"/><text class="f11"><tspan x="2201.9" y="955.5">runtime</tspan><tspan x="2201.9" y="971.8">bulkBarrierPreWrite</tspan><tspan x="2201.9" y="988.1">0.01s (0.83%)</tspan></text></g>
<g id="n-mapaccess1" class="n k01"><rect x="2314" y="937" width="125" height="59.4"/><text class="f11"><tspan x="2376.5" y="955.5">runtime</tspan><tspan x="2376.5" y="971.8">mapaccess1</tspan><tspan x="2376.5" y="988.1">0.01s (0.83%)</tspan></text></g>
<g id="n-ReadFrame" class="n k03"><rect x="2463.8" y="937" width="119" height="59.4"/><text class="f8"><tspan x="2523.3" y="952.4">http2</tspan><tspan x="2523.3" y="964.4">(*Framer)</tspan><tspan x="2523.3" y="976.4">ReadFrame</tspan><tspan x="2523.3" y="988.4">0 of 0.03s (2.50%)</tspan></text></g>
<g id="n-RecvMsg" class="n k03"><rect x="1451.4" y="1107.5" width="119.2" height="59.3"/><text class="f8"><tspan x="1511" y="1122.9">grpc</tspan><tspan x="1511" y="1134.9">(*clientStream)</tspan><tspan x="1511" y="1146.9">RecvMsg</tspan><tspan x="1511" y="1158.9">0 of 0.03s (2.50%)</tspan></text></g>
<g id="n-prepareMsg" class="n k01"><rect x="1595" y="1107.5" width="125.8" height="59.3"/><text class="f11"><tspan x="1657.9" y="1126">grpc</tspan><tspan x="1657.9" y="1142.3">prepareMsg</tspan><tspan x="1657.9" y="1158.6">0.01s (0.83%)</tspan></text></g>
<g id="n-ignoringEINTRIO" class="n k21"><rect x="1962.5" y="1113.3" width="127.2" height="48"/><text class="f8"><tspan x="2026.1" y="1129">poll</tspan><tspan x="2026.1" y="1141">ignoringEINTRIO</tspan><tspan x="2026.1" y="1153">0 of 0.21s (17.50%)</tspan></text></g>
<g id="n-readMetaFrame" class="n k01"><rect x="2451" y="1091.7" width="144.5" height="91"/><text class="f11"><tspan x="2523.3" y="1109.7">http2</tspan><tspan x="2523.3" y="1126">(*Framer)</tspan><tspan x="2523.3" y="1142.3">readMetaFrame</tspan><tspan x="2523.3" y="1158.6">func1</tspan><tspan x="2523.3" y="1174.9">0.01s (0.83%)</tspan></text></g>
<g id="n-mcall" class="n k58"><rect x="371.7" y="1113.2" width="127.3" height="48.2"/><text class="f8"><tspan x="435.3" y="1129">runtime</tspan><tspan x="435.3" y="1141">mcall</tspan><tspan x="435.3" y="1153">0 of 0.58s (48.33%)</tspan></text></g>
<g id="n-withRetry" class="n k04"><rect x="1451.4" y="1278.2" width="119.2" height="58.9"/><text class="f8"><tspan x="1511" y="1293.4">grpc</tspan><tspan x="1511" y="1305.4">(*clientStream)</tspan><tspan x="1511" y="1317.4">withRetry</tspan><tspan x="1511" y="1329.4">0 of 0.04s (3.33%)</tspan></text></g>
<g id="n-metadataJoin" class="n k01"><rect x="1595" y="1278.2" width="125.8" height="58.9"/><text class="f11"><tspan x="1657.9" y="1296.5">metadata</tspan><tspan x="1657.9" y="1312.8">Join</tspan><tspan x="1657.9" y="1329.1">0.01s (0.83%)</tspan></text></g>
<g id="n-Syscall" class="n k21"><rect x="1962.5" y="1283.7" width="127.2" height="48.6"/><text class="f8"><tspan x="2026.1" y="1299.7">syscall</tspan><tspan x="2026.1" y="1311.7">Syscall</tspan><tspan x="2026.1" y="1323.7">0 of 0.21s (17.50%)</tspan></text></g>
<g id="n-gcBgMarkWorker" class="n k03"><rect x="2163.8" y="1283.7" width="118.8" height="48.6"/><text class="f8"><tspan x="2223.2" y="1299.7">runtime</tspan><tspan x="2223.2" y="1311.7">gcBgMarkWorker</tspan><tspan x="2223.2" y="1323.7">0 of 0.03s (2.50%)</tspan></text></g>
<g id="n-park_m" class="n k58"><rect x="358.3" y="1270.7" width="154" height="75"/><text class="f11"><tspan x="435.3" y="1288.9">runtime</tspan><tspan x="435.3" y="1305.2">park_m</tspan><tspan x="435.3" y="1321.5">0.01s (0.83%)</tspan><tspan x="435.3" y="1337.8">of 0.58s (48.33%)</tspan></text></g>
<g id="n-schedule" class="n k57"><rect x="358.3" y="1425" width="154" height="75"/><text class="f11"><tspan x="435.3" y="1443.2">runtime</tspan><tspan x="435.3" y="1459.5">schedule</tspan><tspan x="435.3" y="1475.8">0.01s (0.83%)</tspan><tspan x="435.3" y="1492.1">of 0.57s (47.50%)</tspan></text></g>
<g id="n-Syscall6" class="n k20"><rect x="1913.8" y="1413.3" width="224.2" height="98.7"/><text class="f20"><tspan x="2025.9" y="1443">syscall</tspan><tspan x="2025.9" y="1472">Syscall6</tspan><tspan x="2025.9" y="1501">0.20s (16.67%)</tspan></text></g>
<g id="n-systemstack" class="n k04"><rect x="2163.8" y="1438.7" width="118.8" height="48"/><text class="f8"><tspan x="2223.2" y="1454.4">runtime</tspan><tspan x="2223.2" y="1466.4">systemstack</tspan><tspan x="2223.2" y="1478.4">0 of 0.04s (3.33%)</tspan></text></g>
<g id="n-csAttempt" class="n k02"><rect x="1233.5" y="1433.3" width="118.3" height="58.7"/><text class="f8"><tspan x="1292.7" y="1448.4">grpc</tspan><tspan x="1292.7" y="1460.4">(*csAttempt)</tspan><tspan x="1292.7" y="1472.4">recvMsg</tspan><tspan x="1292.7" y="1484.4">0 of 0.02s (1.67%)</tspan></text></g>
<g id="n-StartTimerD" class="n k16"><rect x="1378.6" y="1427" width="140.2" height="71.3"/><text class="f8"><tspan x="1448.7" y="1442.4">fastime</tspan><tspan x="1448.7" y="1454.4">(*fastime)</tspan><tspan x="1448.7" y="1466.4">StartTimerD</tspan><tspan x="1448.7" y="1478.4">func1</tspan><tspan x="1448.7" y="1490.4">0 of 0.16s (13.33%)</tspan></text></g>
<g id="n-NewStream" class="n k02"><rect x="1542.4" y="1433.2" width="118.8" height="58.3"/><text class="f8"><tspan x="1601.8" y="1448.1">transport</tspan><tspan x="1601.8" y="1460.1">(*http2Client)</tspan><tspan x="1601.8" y="1472.1">NewStream</tspan><tspan x="1601.8" y="1484.1">0 of 0.02s (1.67%)</tspan></text></g>
<g id="n-findRunnable" class="n k55"><rect x="345.5" y="1579.6" width="179" height="85.4"/><text class="f13"><tspan x="435" y="1599.5">runtime</tspan><tspan x="435" y="1618.8">findRunnable</tspan><tspan x="435" y="1638.1">0.04s (3.33%)</tspan><tspan x="435" y="1657.4">of 0.55s (45.83%)</tspan></text></g>
<g id="n-execute" class="n k01"><rect x="548.3" y="1593.2" width="125.7" height="58.9"/><text class="f11"><tspan x="611.2" y="1611.5">runtime</tspan><tspan x="611.2" y="1627.8">execute</tspan><tspan x="611.2" y="1644.1">0.01s (0.83%)</tspan></text></g>
<g id="n-UnmarshalVT" class="n k01"><rect x="1064.7" y="1585" width="125" height="75"/><text class="f11"><tspan x="1127.2" y="1603.2">payload</tspan><tspan x="1127.2" y="1619.5">(*Info_Nodes)</tspan><tspan x="1127.2" y="1635.8">UnmarshalVT</tspan><tspan x="1127.2" y="1652.1">0.01s (0.83%)</tspan></text></g>
<g id="n-selectgo" class="n k05"><rect x="1214.7" y="1582.3" width="153.2" height="80.4"/><text class="f12"><tspan x="1291.3" y="1601.4">runtime</tspan><tspan x="1291.3" y="1619.2">selectgo</tspan><tspan x="1291.3" y="1637">0.02s (1.67%)</tspan><tspan x="1291.3" y="1654.8">of 0.05s (4.17%)</tspan></text></g>
<g id="n-update" class="n k12"><rect x="1391" y="1593.3" width="128" height="58.4"/><text class="f8"><tspan x="1455" y="1608.2">fastime</tspan><tspan x="1455" y="1620.2">(*fastime)</tspan><tspan x="1455" y="1632.2">update</tspan><tspan x="1455" y="1644.2">0 of 0.12s (10.00%)</tspan></text></g>
<g id="n-newobject" class="n k01"><rect x="1592" y="1593" width="126" height="59"/><text class="f11"><tspan x="1655" y="1611.3">runtime</tspan><tspan x="1655" y="1627.6">newobject</tspan><tspan x="1655" y="1643.9">0.01s (0.83%)</tspan></text></g>
<g id="n-gcDrain" class="n k03"><rect x="2163.4" y="1598.3" width="118.8" height="48.4"/><text class="f8"><tspan x="2222.8" y="1614.2">runtime</tspan><tspan x="2222.8" y="1626.2">gcDrain</tspan><tspan x="2222.8" y="1638.2">0 of 0.03s (2.50%)</tspan></text></g>
<g id="n-unlock2" class="n k01"><rect x="2307.2" y="1592.7" width="125" height="59.3"/><text class="f11"><tspan x="2369.7" y="1611.2">runtime</tspan><tspan x="2369.7" y="1627.5">unlock2</tspan><tspan x="2369.7" y="1643.8">0.01s (0.83%)</tspan></text></g>
<g id="n-pidleput" class="n k02"><rect x="5.5" y="1779" width="132.2" height="63.1"/><text class="f12"><tspan x="71.6" y="1798.4">runtime</tspan><tspan x="71.6" y="1816.2">pidleput</tspan><tspan x="71.6" y="1834">0.02s (1.67%)</tspan></text></g>
<g id="n-checkTimers" class="n k03"><rect x="160.7" y="1786.5" width="119.4" height="48.5"/><text class="f8"><tspan x="220.4" y="1802.5">runtime</tspan><tspan x="220.4" y="1814.5">checkTimers</tspan><tspan x="220.4" y="1826.5">0 of 0.03s (2.50%)</tspan></text></g>
<g id="n-epollwait" class="n k42"><rect x="304" y="1753.4" width="263" height="114.8"/><text class="f24"><tspan x="435.5" y="1787">runtime</tspan><tspan x="435.5" y="1822">epollwait</tspan><tspan x="435.5" y="1857">0.42s (35.00%)</tspan></text></g>
<g id="n-prepareForSweep" class="n k02"><rect x="590.9" y="1770.8" width="166.1" height="79.5"/><text class="f12"><tspan x="674" y="1789.5">runtime</tspan><tspan x="674" y="1807.3">(*mcache)</tspan><tspan x="674" y="1825.1">prepareForSweep</tspan><tspan x="674" y="1842.9">0.02s (1.67%)</tspan></text></g>
<g id="n-pidleget" class="n k01"><rect x="781.7" y="1781" width="125.9" height="59"/><text class="f11"><tspan x="844.6" y="1799.3">runtime</tspan><tspan x="844.6" y="1815.6">pidleget</tspan><tspan x="844.6" y="1831.9">0.01s (0.83%)</tspan></text></g>
<g id="n-lock" class="n k02"><rect x="931.5" y="1786.7" width="119" height="47.8"/><text class="f8"><tspan x="991" y="1802.3">runtime</tspan><tspan x="991" y="1814.3">lock</tspan><tspan x="991" y="1826.3">0 of 0.02s (1.67%)</tspan></text></g>
<g id="n-dequeueSudoG" class="n k01"><rect x="1074.2" y="1773.3" width="134.8" height="74.9"/><text class="f11"><tspan x="1141.6" y="1791.4">runtime</tspan><tspan x="1141.6" y="1807.7">(*waitq)</tspan><tspan x="1141.6" y="1824">dequeueSudoG</tspan><tspan x="1141.6" y="1840.3">0.01s (0.83%)</tspan></text></g>
<g id="n-acquirem" class="n k01"><rect x="1233.6" y="1781" width="125.8" height="59"/><text class="f11"><tspan x="1296.5" y="1799.3">runtime</tspan><tspan x="1296.5" y="1815.6">acquirem</tspan><tspan x="1296.5" y="1831.9">0.01s (0.83%)</tspan></text></g>
<g id="n-store" class="n k11"><rect x="1383.1" y="1765" width="144.2" height="91"/><text class="f11"><tspan x="1455.2" y="1783">fastime</tspan><tspan x="1455.2" y="1799.3">(*fastime)</tspan><tspan x="1455.2" y="1815.6">store</tspan><tspan x="1455.2" y="1831.9">0.01s (0.83%)</tspan><tspan x="1455.2" y="1848.2">of 0.11s (9.17%)</tspan></text></g>
<g id="n-serve" class="n k02"><rect x="1834.5" y="1780.7" width="119" height="59.3"/><text class="f8"><tspan x="1894" y="1796.1">http</tspan><tspan x="1894" y="1808.1">(*conn)</tspan><tspan x="1894" y="1820.1">serve</tspan><tspan x="1894" y="1832.1">0 of 0.02s (1.67%)</tspan></text></g>
<g id="n-gentraceback" class="n k02"><rect x="2027.7" y="1786.7" width="118.8" height="48.3"/><text class="f8"><tspan x="2087.1" y="1802.6">runtime</tspan><tspan x="2087.1" y="1814.6">gentraceback</tspan><tspan x="2087.1" y="1826.6">0 of 0.02s (1.67%)</tspan></text></g>
<g id="n-scanobject" class="n k02"><rect x="2171" y="1772.7" width="144" height="75.3"/><text class="f11"><tspan x="2243" y="1791">runtime</tspan><tspan x="2243" y="1807.3">scanobject</tspan><tspan x="2243" y="1823.6">0.01s (0.83%)</tspan><tspan x="2243" y="1839.9">of 0.02s (1.67%)</tspan></text></g>
<g id="n-nanotime" class="n k01"><rect x="11.5" y="1963.7" width="125.3" height="58.8"/><text class="f11"><tspan x="74.2" y="1981.9">runtime</tspan><tspan x="74.2" y="1998.2">nanotime</tspan><tspan x="74.2" y="2014.5">0.01s (0.83%)</tspan></text></g>
<g id="n-runOneTimer" class="n k02"><rect x="160.7" y="1969" width="119.4" height="48.2"/><text class="f8"><tspan x="220.4" y="1984.8">runtime</tspan><tspan x="220.4" y="1996.8">runOneTimer</tspan><tspan x="220.4" y="2008.8">0 of 0.02s (1.67%)</tspan></text></g>
<g id="n-lock2" class="n k02"><rect x="926.5" y="1962" width="129" height="62"/><text class="f12"><tspan x="991" y="1980.8">runtime</tspan><tspan x="991" y="1998.6">lock2</tspan><tspan x="991" y="2016.4">0.02s (1.67%)</tspan></text></g>
<g id="n-AppendFormat" class="n k07"><rect x="1395.5" y="1963.3" width="118.9" height="59.4"/><text class="f8"><tspan x="1455" y="1978.7">time</tspan><tspan x="1455" y="1990.7">Time</tspan><tspan x="1455" y="2002.7">AppendFormat</tspan><tspan x="1455" y="2014.7">0 of 0.07s (5.83%)</tspan></text></g>
<g id="n-convT" class="n k01"><rect x="1538.7" y="1963.3" width="126.3" height="59.4"/><text class="f11"><tspan x="1601.9" y="1981.8">runtime</tspan><tspan x="1601.9" y="1998.1">convT</tspan><tspan x="1601.9" y="2014.4">0.01s (0.83%)</tspan></text></g>
<g id="n-mallocgc" class="n k03"><rect x="1688.4" y="1956" width="144.2" height="75"/><text class="f11"><tspan x="1760.5" y="1974.2">runtime</tspan><tspan x="1760.5" y="1990.5">mallocgc</tspan><tspan x="1760.5" y="2006.8">0.01s (0.83%)</tspan><tspan x="1760.5" y="2023.1">of 0.03s (2.50%)</tspan></text></g>
<g id="n-isZeros" class="n k01"><rect x="1856.7" y="1963.3" width="125" height="59.4"/><text class="f11"><tspan x="1919.2" y="1981.8">net</tspan><tspan x="1919.2" y="1998.1">isZeros</tspan><tspan x="1919.2" y="2014.4">0.01s (0.83%)</tspan></text></g>
<g id="n-funcInfoEntry" class="n k01"><rect x="2005.7" y="1956" width="125.5" height="74.7"/><text class="f11"><tspan x="2068.5" y="1974">runtime</tspan><tspan x="2068.5" y="1990.3">funcInfo</tspan><tspan x="2068.5" y="2006.6">entry</tspan><tspan x="2068.5" y="2022.9">0.01s (0.83%)</tspan></text></g>
<g id="n-adjustframe" class="n k01"><rect x="2155.2" y="1963.3" width="125.5" height="59.4"/><text class="f11"><tspan x="2218" y="1981.8">runtime</tspan><tspan x="2218" y="1998.1">adjustframe</tspan><tspan x="2218" y="2014.4">0.01s (0.83%)</tspan></text></g>
<g id="n-heapBits" class="n k01"><rect x="2304.7" y="1956" width="125.5" height="74.7"/><text class="f11"><tspan x="2367.5" y="1974">runtime</tspan><tspan x="2367.5" y="1990.3">heapBits</tspan><tspan x="2367.5" y="2006.6">bits</tspan><tspan x="2367.5" y="2022.9">0.01s (0.83%)</tspan></text></g>
<g id="n-casgstatus" class="n k01"><rect x="81.7" y="2126.6" width="125.8" height="58.9"/><text class="f11"><tspan x="144.6" y="2144.9">runtime</tspan><tspan x="144.6" y="2161.2">casgstatus</tspan><tspan x="144.6" y="2177.5">0.01s (0.83%)</tspan></text></g>
<g id="n-siftdownTimer" class="n k01"><rect x="230.9" y="2126.6" width="131.4" height="58.9"/><text class="f11"><tspan x="296.6" y="2144.9">runtime</tspan><tspan x="296.6" y="2161.2">siftdownTimer</tspan><tspan x="296.6" y="2177.5">0.01s (0.83%)</tspan></text></g>
<g id="n-appendInt" class="n k03"><rect x="1250" y="2121.7" width="143" height="67.6"/><text class="f13"><tspan x="1321.5" y="2142.3">time</tspan><tspan x="1321.5" y="2161.6">appendInt</tspan><tspan x="1321.5" y="2180.9">0.03s (2.50%)</tspan></text></g>
<g id="n-nextStdChunk" class="n k03"><rect x="1418" y="2121.7" width="146.5" height="67.6"/><text class="f13"><tspan x="1491.2" y="2142.3">time</tspan><tspan x="1491.2" y="2161.6">nextStdChunk</tspan><tspan x="1491.2" y="2180.9">0.03s (2.50%)</tspan></text></g>
<g id="n-partialSwept" class="n k01"><rect x="1660.9" y="2118.3" width="124.9" height="74.4"/><text class="f11"><tspan x="1723.4" y="2136.2">runtime</tspan><tspan x="1723.4" y="2152.5">(*mcentral)</tspan><tspan x="1723.4" y="2168.8">partialSwept</tspan><tspan x="1723.4" y="2185.1">0.01s (0.83%)</tspan></text></g>
<g id="n-memclrNoHeapPointers" class="n k01"><rect x="1809.6" y="2126" width="203" height="59"/><text class="f11"><tspan x="1911.1" y="2144.3">runtime</tspan><tspan x="1911.1" y="2160.6">memclrNoHeapPointers</tspan><tspan x="1911.1" y="2176.9">0.01s (0.83%)</tspan></text></g>
</g>
</svg>
